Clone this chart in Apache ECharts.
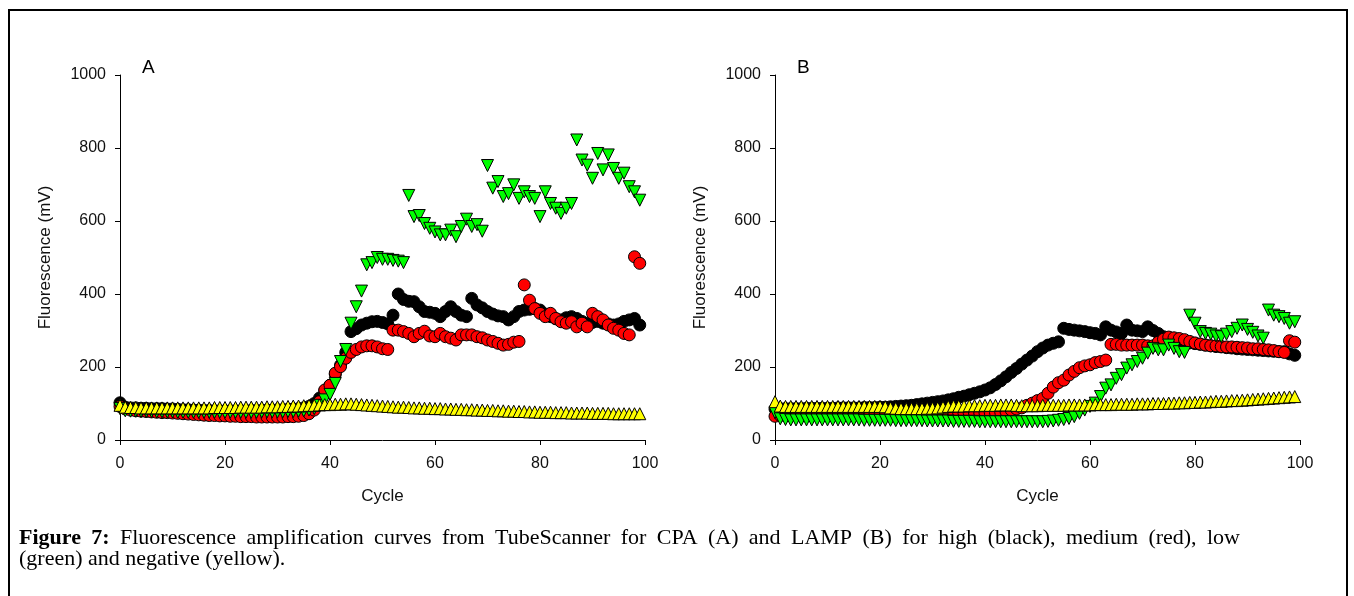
<!DOCTYPE html>
<html><head><meta charset="utf-8">
<script src="https://cdn.jsdelivr.net/npm/echarts@6/dist/echarts.min.js"></script>
<style>html,body{margin:0;padding:0;background:#fff}#c{width:1354px;height:596px}</style>
</head><body><div id="c"></div>
<script>
const cycles = Array.from({length:100},(_, i)=>i);
const xTicks = [0,20,40,60,80,100];
const yTicks = [0,200,400,600,800,1000];
const panelLabels = ['A','B'];
const captionBold = 'Figure 7:';
const captionLine1 = 'Fluorescence amplification curves from TubeScanner for CPA (A) and LAMP (B) for high (black), medium (red), low';
const captionLine2 = '(green) and negative (yellow).';

const highA = [102,90,88,88,87,87,86,86,86,85,85,84,83,83,82,82,81,81,80,80,80,80,80,80,80,81,81,81,82,82,83,83,84,85,86,88,92,100,115,135,150,180,205,240,297,305,315,320,324,325,322,318,342,400,385,380,379,365,352,350,347,338,352,365,352,342,338,388,370,362,352,345,340,338,329,338,352,356,358,360,356,345,338,332,329,335,338,333,325,320,322,325,320,318,315,318,325,329,333,315];
const mediumA = [92,85,82,80,79,78,77,76,75,75,74,73,72,71,70,69,68,67,67,66,66,65,65,64,64,64,63,63,63,63,63,63,64,64,65,67,72,82,105,137,150,183,201,224,240,248,255,258,258,255,250,248,301,301,297,292,283,292,298,285,283,292,283,279,274,288,288,288,283,280,274,270,265,260,262,268,270,425,383,360,347,338,347,333,324,320,324,310,320,310,347,338,329,315,306,301,292,288,502,484];
const lowA = [86,80,79,79,78,78,78,77,77,77,77,76,76,76,76,76,76,76,76,76,76,76,76,76,76,76,76,77,77,77,77,77,78,78,79,80,82,86,95,110,125,155,215,248,320,365,408,480,486,500,495,495,492,490,486,670,612,615,593,580,570,562,562,575,557,585,605,585,590,572,752,690,708,667,675,699,662,680,667,662,612,680,648,635,621,635,648,822,767,753,717,785,740,781,744,717,731,694,680,657];
const negA = [95,90,89,89,88,88,88,88,88,88,88,88,88,88,88,88,88,88,89,89,89,89,89,90,90,90,90,90,91,91,91,92,92,93,93,94,95,95,96,97,97,98,98,99,99,98,97,96,95,94,93,92,91,90,90,89,88,88,87,87,86,86,85,85,84,84,83,83,82,82,81,81,80,80,79,79,78,78,77,77,76,76,76,75,75,75,74,74,74,74,73,73,73,73,72,72,72,72,72,72];

const highB = [85,86,86,86,86,86,87,87,87,87,87,87,88,88,88,88,88,89,89,89,90,90,91,92,93,94,95,97,99,101,103,105,107,110,113,117,120,124,128,132,137,143,152,162,173,185,196,208,219,230,242,252,260,265,269,306,303,301,299,297,294,292,288,310,301,296,292,315,301,299,297,310,300,292,283,276,272,270,268,266,264,262,260,258,256,255,253,252,250,249,248,247,246,245,244,243,242,242,236,232];
const mediumB = [65,67,68,68,68,68,68,68,68,68,68,68,68,68,68,68,68,68,68,68,69,69,69,69,69,70,70,70,70,71,71,71,72,72,72,73,73,73,74,74,74,75,75,76,78,82,85,88,95,101,108,114,128,145,157,164,178,188,198,203,206,212,215,219,262,262,260,260,260,260,260,258,258,268,276,282,280,278,275,270,266,263,260,258,258,256,255,255,254,253,252,250,250,248,247,245,242,240,272,268];
const lowB = [75,58,56,55,55,55,55,55,55,55,55,55,55,55,55,55,55,54,54,54,54,54,54,53,53,53,53,53,53,52,52,52,52,52,51,51,51,51,51,50,50,50,50,50,50,50,50,50,50,50,50,50,51,52,54,56,59,64,73,82,92,101,119,142,151,169,179,197,206,215,224,238,251,247,247,260,251,242,240,342,320,297,292,290,285,283,290,297,306,315,303,295,285,279,356,342,338,333,320,324];
const negB = [105,93,92,92,92,92,92,92,92,92,92,92,92,92,92,92,92,92,92,92,92,91,88,87,86,86,86,86,86,87,87,88,90,92,93,93,93,94,94,94,95,95,95,96,96,96,95,94,94,94,94,95,95,95,95,95,96,96,96,96,96,97,97,97,97,98,98,98,98,99,99,99,100,100,100,101,101,102,102,103,103,104,104,105,106,106,107,108,108,109,110,111,112,113,114,115,116,117,118,119];

const pair = arr => cycles.map((c,i)=>[c, arr[i]]);
const W = 525, TOP = 75, H = 365;
const lefts = [120, 775];

function xAxis(i){
  return {type:'value', gridIndex:i, min:0, max:100, interval:20, name:'Cycle', nameLocation:'middle', nameGap:48,
    nameTextStyle:{fontFamily:'Liberation Sans, Arial', fontSize:17, color:'#111'},
    axisLine:{show:true, onZero:false, lineStyle:{color:'#000', width:1}},
    axisTick:{show:true, inside:false, length:5, lineStyle:{color:'#000'}},
    axisLabel:{margin:16, fontFamily:'Liberation Sans, Arial', fontSize:16, color:'#111',
      formatter: v => xTicks.includes(v) ? String(v) : ''},
    splitLine:{show:false}};
}
function yAxis(i){
  return {type:'value', gridIndex:i, min:0, max:1000, interval:200, name:'Fluorescence (mV)', nameLocation:'middle', nameGap:66,
    nameRotate:90,
    nameTextStyle:{fontFamily:'Liberation Sans, Arial', fontSize:17, color:'#111'},
    axisLine:{show:true, lineStyle:{color:'#000', width:1}},
    axisTick:{show:true, inside:false, length:5, lineStyle:{color:'#000'}},
    axisLabel:{margin:14, fontFamily:'Liberation Sans, Arial', fontSize:16, color:'#111',
      formatter: v => yTicks.includes(v) ? String(v) : ''},
    splitLine:{show:false}};
}
function sc(i, data, symbol, color, rotate){
  return {type:'scatter', xAxisIndex:i, yAxisIndex:i, data:pair(data), symbol:symbol, symbolSize:12,
    symbolRotate: rotate||0, itemStyle:{color:color, borderColor:'#000', borderWidth:1, opacity:1},
    emphasis:{disabled:true}, animation:false};
}

// justified first caption line (last line left-aligned)
const FS = 22;
const FONT_N = FS + 'px "Liberation Serif", "Times New Roman", serif';
const FONT_B = 'bold ' + FS + 'px "Liberation Serif", "Times New Roman", serif';
const cv = document.createElement('canvas').getContext('2d');
const words = captionBold.split(' ').map(w=>({w, f:FONT_B})).concat(captionLine1.split(' ').map(w=>({w, f:FONT_N})));
words.forEach(o=>{ cv.font = o.f; o.width = cv.measureText(o.w).width; });
const X0 = 19, X1 = 1240;
const total = words.reduce((s,o)=>s+o.width,0);
const gap = Math.max(FS*0.25, (X1 - X0 - total)/(words.length-1));
let cx = X0;
const captionEls = words.map(o=>{ const el = {type:'text', x:cx, y:527, silent:true, style:{text:o.w, font:o.f, fill:'#000', textBaseline:'top'}}; cx += o.width + gap; return el; });
captionEls.push({type:'text', x:X0, y:548, silent:true, style:{text:captionLine2, font:FONT_N, fill:'#000', textBaseline:'top'}});

const chart = echarts.init(document.getElementById('c'), null, {renderer:'canvas'});
chart.setOption({
  backgroundColor:'#fff',
  animation:false,
  grid: lefts.map(l=>({left:l, top:TOP, width:W, height:H, containLabel:false})),
  xAxis:[xAxis(0), xAxis(1)],
  yAxis:[yAxis(0), yAxis(1)],
  series:[
    sc(0, highA, 'circle', '#000000'),
    sc(0, mediumA, 'circle', '#ff0000'),
    sc(0, lowA, 'triangle', '#00ff00', 180),
    sc(0, negA, 'triangle', '#ffff00'),
    sc(1, highB, 'circle', '#000000'),
    sc(1, mediumB, 'circle', '#ff0000'),
    sc(1, lowB, 'triangle', '#00ff00', 180),
    sc(1, negB, 'triangle', '#ffff00')
  ],
  graphic:[
    {type:'rect', shape:{x:9, y:10, width:1338, height:620}, style:{fill:'none', stroke:'#000', lineWidth:2}, silent:true},
    {type:'text', left:142, top:58, style:{text:panelLabels[0], font:'19px "Liberation Sans", Arial', fill:'#000'}},
    {type:'text', left:797, top:58, style:{text:panelLabels[1], font:'19px "Liberation Sans", Arial', fill:'#000'}}
  ].concat(captionEls)
});
</script></body></html>
